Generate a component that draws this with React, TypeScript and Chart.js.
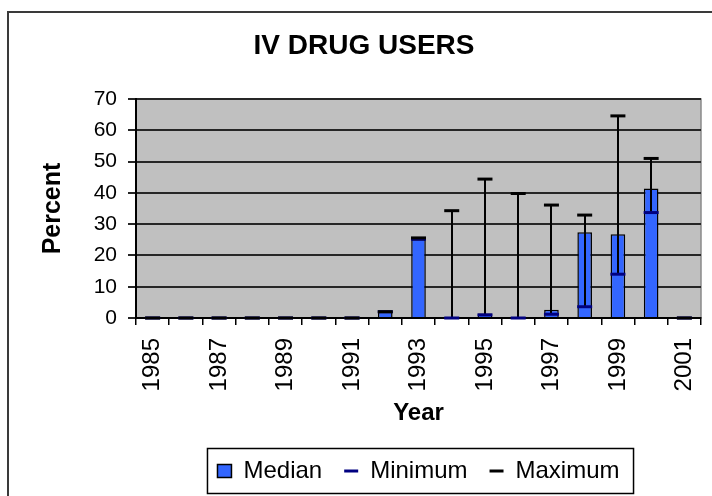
import { useEffect, useRef } from 'react';
import { Chart, registerables } from 'chart.js';

Chart.register(...registerables);

const years = ['1985', '1986', '1987', '1988', '1989', '1990', '1991', '1992', '1993', '1994', '1995', '1996', '1997', '1998', '1999', '2000', '2001'];
const medianValues = [0, 0, 0, 0, 0, 0, 0, 2.0, 25.2, 0, 1.4, 0, 2.6, 27.4, 26.8, 41.4, 0];
const minimumValues = [0, 0, 0, 0, 0, 0, 0, 2.0, 25.2, 0, 1.0, 0, 1.2, 3.6, 14.0, 33.7, 0];
const maximumValues = [0, 0, 0, 0, 0, 0, 0, 2.0, 25.6, 34.3, 44.4, 39.8, 36.1, 32.9, 64.6, 51.0, 0];
const yMin = 0;
const yMax = 70;
const yStep = 10;

const chartTitle = 'IV DRUG USERS';
const xTitle = 'Year';
const yTitle = 'Percent';

const FONT = "'Liberation Sans', Arial, Helvetica, sans-serif";

export default function App() {
  const ref = useRef<HTMLCanvasElement>(null);

  useEffect(() => {
    const canvas = ref.current;
    if (!canvas) return;

    const decor = {
      id: 'decor',
      beforeDraw(chart: any) {
        const { ctx, chartArea: a } = chart;
        ctx.save();
        ctx.fillStyle = '#ffffff';
        ctx.fillRect(0, 0, chart.width, chart.height);
        ctx.strokeStyle = '#3a3a3a';
        ctx.lineWidth = 2;
        ctx.strokeRect(8, 12, 740, 520);
        ctx.fillStyle = '#C0C0C0';
        ctx.fillRect(a.left, a.top, a.right - a.left, a.bottom - a.top);
        ctx.strokeStyle = '#8a8a8a';
        ctx.lineWidth = 1.5;
        ctx.strokeRect(a.left, a.top, a.right - a.left, a.bottom - a.top);
        ctx.restore();
      },
      afterDatasetDraw(chart: any, args: any) {
        if (args.index !== 0) return;
        const { ctx, chartArea: a } = chart;
        const xs = chart.scales.x;
        const ys = chart.scales.y;
        ctx.save();
        ctx.beginPath();
        ctx.rect(a.left, a.top, a.right - a.left, a.bottom - a.top);
        ctx.clip();
        ctx.strokeStyle = '#000000';
        ctx.lineWidth = 2;
        for (let i = 0; i < years.length; i++) {
          const lo = minimumValues[i];
          const hi = maximumValues[i];
          if (hi <= lo) continue;
          const px = Math.round(xs.getPixelForValue(i));
          ctx.beginPath();
          ctx.moveTo(px, ys.getPixelForValue(lo));
          ctx.lineTo(px, ys.getPixelForValue(hi));
          ctx.stroke();
        }
        ctx.restore();
      },
      afterDraw(chart: any) {
        const lg = chart.legend;
        const hb = lg && lg.legendHitBoxes;
        if (!hb || !hb.length) return;
        const { ctx } = chart;
        const first = hb[0];
        const last = hb[hb.length - 1];
        const l = first.left - 10;
        const r = last.left + last.width + 14;
        const t = first.top - 10.5;
        const b = first.top + first.height + 10.5;
        ctx.save();
        ctx.strokeStyle = '#000000';
        ctx.lineWidth = 1.5;
        ctx.strokeRect(l, t, r - l, b - t);
        ctx.restore();
      },
    };

    const chart = new Chart(canvas, {
      type: 'bar',
      data: {
        labels: years,
        datasets: [
          {
            type: 'bar',
            label: 'Median',
            data: medianValues,
            backgroundColor: '#3366FF',
            borderColor: '#000000',
            borderWidth: 1.5,
            barPercentage: 0.44,
            categoryPercentage: 1,
            order: 3,
            pointStyle: 'rect',
          } as any,
          {
            type: 'line',
            label: 'Minimum',
            data: minimumValues,
            showLine: false,
            clip: false,
            borderColor: '#000080',
            backgroundColor: '#000080',
            borderWidth: 3,
            pointStyle: 'line',
            pointRadius: 7.5,
            pointBorderColor: '#000080',
            pointBorderWidth: 3,
            order: 2,
          } as any,
          {
            type: 'line',
            label: 'Maximum',
            data: maximumValues,
            showLine: false,
            clip: false,
            borderColor: '#000000',
            backgroundColor: '#000000',
            borderWidth: 3,
            pointStyle: 'line',
            pointRadius: 7.5,
            pointBorderColor: '#000000',
            pointBorderWidth: 3,
            order: 1,
          } as any,
        ],
      },
      options: {
        responsive: false,
        animation: false,
        devicePixelRatio: 1,
        events: [],
        layout: { padding: { left: 27, right: 11, top: 8, bottom: 3 } },
        font: { family: FONT },
        plugins: {
          title: {
            display: true,
            text: chartTitle,
            color: '#000000',
            font: { family: FONT, size: 28, weight: 'bold' },
            padding: { top: 21, bottom: 36.4 },
          },
          legend: {
            display: true,
            position: 'bottom',
            fullSize: false,
            labels: {
              usePointStyle: true,
              pointStyleWidth: 14,
              boxHeight: 13,
              padding: 22,
              color: '#000000',
              font: { family: FONT, size: 24 },
              sort: (a: any, b: any) => a.datasetIndex - b.datasetIndex,
            },
          },
          tooltip: { enabled: false },
        },
        scales: {
          x: {
            type: 'category',
            offset: true,
            afterFit: (s: any) => {
              s.height = 119;
              s.paddingLeft = 0;
              s.paddingRight = 0;
            },
            grid: {
              offset: true,
              drawOnChartArea: false,
              drawTicks: true,
              tickLength: 7,
              color: '#000000',
              lineWidth: 1.5,
            },
            border: { display: true, color: '#000000', width: 2 },
            ticks: {
              autoSkip: false,
              maxRotation: 90,
              minRotation: 90,
              padding: 13,
              color: '#000000',
              font: { family: FONT, size: 24 },
              callback: (_v: any, i: number) => (i % 2 === 0 ? years[i] : ''),
            },
            title: {
              display: true,
              text: xTitle,
              color: '#000000',
              font: { family: FONT, size: 24, weight: 'bold' },
              padding: { top: 0, bottom: 9.6 },
            },
          },
          y: {
            min: yMin,
            max: yMax,
            afterFit: (s: any) => { s.width = 109; },
            grid: {
              color: '#262626',
              lineWidth: 2,
              drawTicks: true,
              tickLength: 8,
            },
            border: { display: true, color: '#000000', width: 2 },
            ticks: {
              stepSize: yStep,
              padding: 11,
              color: '#000000',
              font: { family: FONT, size: 21 },
            },
            title: {
              display: true,
              text: yTitle,
              color: '#000000',
              font: { family: FONT, size: 25, weight: 'bold' },
              padding: { top: 11, bottom: 0 },
            },
          },
        },
      } as any,
      plugins: [decor],
    });

    return () => {
      chart.destroy();
    };
  }, []);

  return (
    <div style={{ position: 'absolute', left: 0, top: 0, width: 712, height: 496 }}>
      <canvas ref={ref} width={712} height={496} style={{ display: 'block' }} />
    </div>
  );
}
